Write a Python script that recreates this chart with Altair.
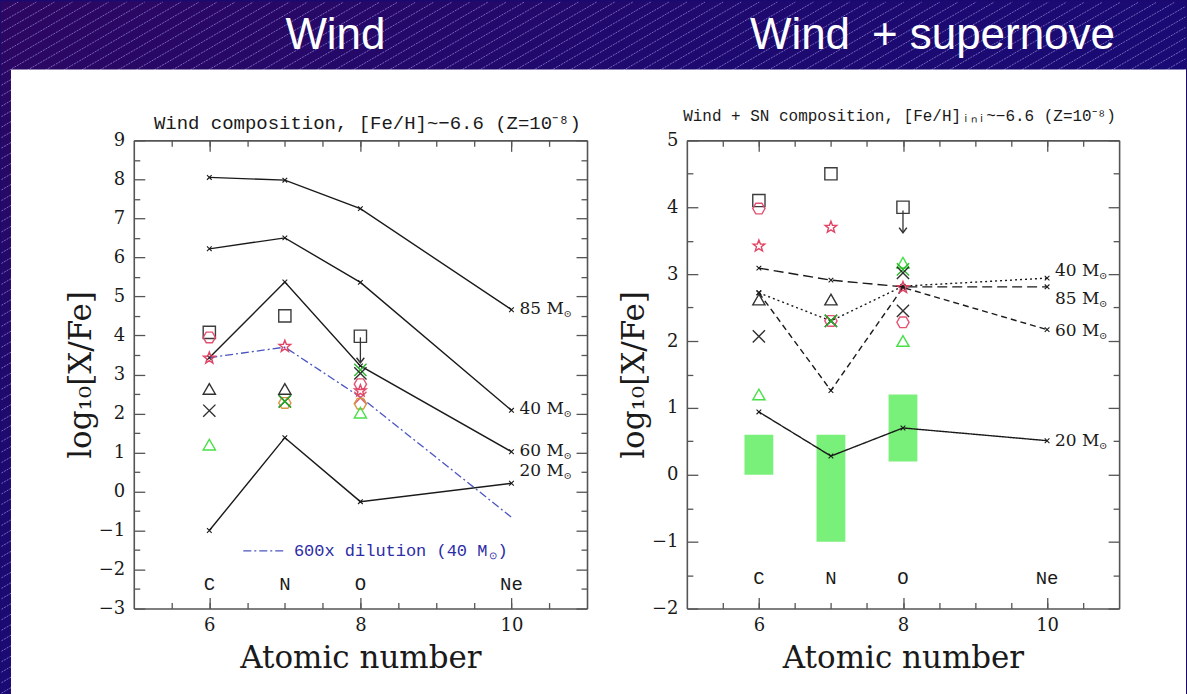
import altair as alt
import numpy as np
import pandas as pd

# ---------------------------------------------------------------- data
ELEMENTS = ["C", "N", "O", "Ne"]
ATOMIC = [6, 7, 8, 10]
MASSES = ["85", "40", "60", "20"]

# wind-only yields, log10[X/Fe]
WIND_85 = [8.05, 7.98, 7.25, 4.66]
WIND_40 = [6.22, 6.50, 5.36, 2.08]
WIND_60 = [3.43, 5.37, 3.22, 1.02]
WIND_20 = [-1.00, 1.38, -0.26, 0.21]
WIND_DILUTED_40 = [3.43, 3.70, 2.42, -0.66]
WIND_LABEL_Y = [4.68, 2.12, 1.04, 0.53]          # 85, 40, 60, 20

# wind + supernova yields
SN_85 = [3.09, 2.91, 2.81, 2.81]
SN_40 = [2.72, 2.30, 2.82, 2.94]
SN_60 = [2.72, 1.26, 2.80, 2.17]
SN_20 = [0.94, 0.28, 0.70, 0.51]
SN_LABEL_Y = [2.63, 3.05, 2.15, 0.51]            # 85, 40, 60, 20

# observed extremely metal-poor stars
OBS_KINDS = ["square", "hex_red", "star_red", "tri_black", "x_black",
             "tri_green", "x_green", "hex_orange", "x_red"]

WIND_OBS_Z = [6, 6, 6, 6, 6, 6, 7, 7, 7, 7, 7, 7, 8, 8, 8, 8, 8, 8, 8, 8]
WIND_OBS_VAL = [4.08, 3.95, 3.42, 2.63, 2.07, 1.20,
                4.50, 3.72, 2.63, 2.27, 2.31, 2.31,
                3.98, 3.12, 3.03, 2.75, 2.58, 2.40, 2.25, 2.02]
WIND_OBS_KIND = ["square", "hex_red", "star_red", "tri_black", "x_black", "tri_green",
                 "square", "star_red", "tri_black", "hex_orange", "x_black", "x_green",
                 "square", "x_green", "x_black", "hex_red", "star_red", "x_red",
                 "hex_orange", "tri_green"]

SN_OBS_Z = [6, 6, 6, 6, 6, 6, 7, 7, 7, 7, 7, 7, 8, 8, 8, 8, 8, 8, 8, 8]
SN_OBS_VAL = [4.10, 3.98, 3.42, 2.62, 2.07, 1.20,
              4.50, 3.70, 2.62, 2.30, 2.30, 2.30,
              4.00, 3.17, 3.07, 3.02, 2.80, 2.45, 2.28, 2.00]
SN_OBS_KIND = ["square", "hex_red", "star_red", "tri_black", "x_black", "tri_green",
               "square", "star_red", "tri_black", "hex_red", "x_black", "x_green",
               "square", "tri_green", "x_green", "x_black", "star_red", "x_black",
               "hex_red", "tri_green"]

# oxygen upper limit (from, to)
WIND_LIMIT = [3.95, 3.30]
SN_LIMIT = [3.95, 3.62]

# observed abundance ranges (green boxes)
RANGE_Z_LO = [5.8, 6.8, 7.8]
RANGE_Z_HI = [6.2, 7.2, 8.2]
RANGE_LO = [0.0, -1.0, 0.2]
RANGE_HI = [0.6, 0.6, 1.2]

# dilution legend sample
LEGEND_Z = [6.45, 7.0]
LEGEND_Y = [-1.52, -1.52]

X_MAJOR = [6, 8, 10]
X_MINOR = [5.5, 6, 6.5, 7, 7.5, 8, 8.5, 9, 9.5, 10, 10.5]
WIND_Y_MAJOR = [-3, -2, -1, 0, 1, 2, 3, 4, 5, 6, 7, 8, 9]
WIND_Y_MINOR = [-2.5, -1.5, -0.5, 0.5, 1.5, 2.5, 3.5, 4.5, 5.5, 6.5, 7.5, 8.5]
SN_Y_MAJOR = [-2, -1, 0, 1, 2, 3, 4, 5]
SN_Y_MINOR = [-1.5, -0.5, 0.5, 1.5, 2.5, 3.5, 4.5]

WIND_TITLE = "Wind composition, [Fe/H]~−6.6 (Z=10⁻⁸)"
SN_TITLE = "Wind + SN composition, [Fe/H]ᵢₙᵢ~−6.6 (Z=10⁻⁸)"
HEADERS = ["Wind", "Wind\u2002+ supernove"]

# ---------------------------------------------------------------- styles
SERIF = "DejaVu Serif"
MONO = "Liberation Mono"
SANS = "Liberation Sans"
INK = "#1a1a1a"
FRAME = "#555555"

STAR = ("M0,-1L0.247,-0.34L0.951,-0.309L0.399,0.13L0.588,0.809L0,0.42"
        "L-0.588,0.809L-0.399,0.13L-0.951,-0.309L-0.247,-0.34Z")
HEX = "M-1,0L-0.5,-0.866L0.5,-0.866L1,0L0.5,0.866L-0.5,0.866Z"
XMARK = "M-1,-1L1,1M-1,1L1,-1"
VHEAD = "M-1,-1.3L0,0L1,-1.3"

KIND_SHAPES = ["square", HEX, STAR, "triangle-up", XMARK,
               "triangle-up", XMARK, HEX, XMARK]
KIND_COLORS = ["#333333", "#e4486a", "#e23a5c", "#262626", "#262626",
               "#3fdf3f", "#22b522", "#d8923c", "#e0506a"]

PLOT_LEFT, PLOT_TOP = 133, 139
CANVAS_W, CANVAS_H = 1187, 694


def make_axes(major, minor, lo, hi, title, label_pad, title_pad, fmt):
    common = dict(grid=False, zindex=1, tickColor=FRAME, domainColor=FRAME,
                  domainWidth=1.6, tickWidth=1.3)
    return [
        alt.Axis(orient=lo, values=major, ticks=False, domain=True, labels=True,
                 title=title, labelPadding=label_pad, titlePadding=title_pad,
                 labelFont=SERIF, labelFontSize=18, labelColor=INK,
                 labelFlush=False, labelOverlap=False, format=fmt,
                 titleFont=SERIF, titleFontSize=31, titleFontWeight="normal",
                 titleColor=INK, **common),
        alt.Axis(orient=hi, ticks=False, domain=True, labels=False, title=None, **common),
        alt.Axis(orient=lo, values=major, tickSize=11, offset=-11, domain=False,
                 labels=False, title=None, **common),
        alt.Axis(orient=hi, values=major, tickSize=11, offset=-11, domain=False,
                 labels=False, title=None, **common),
        alt.Axis(orient=lo, values=minor, tickSize=6, offset=-6, domain=False,
                 labels=False, title=None, **common),
        alt.Axis(orient=hi, values=minor, tickSize=6, offset=-6, domain=False,
                 labels=False, title=None, **common),
    ]


class Positions:
    """Hands out x/y encodings; the first layers carry the frame axes."""

    def __init__(self, xs, ys, xaxes, yaxes):
        self.xs, self.ys, self.xaxes, self.yaxes = xs, ys, xaxes, yaxes
        self.k = 0

    def __call__(self, xf, yf, **extra):
        k = self.k
        self.k += 1
        ax = self.xaxes[k] if k < len(self.xaxes) else None
        ay = self.yaxes[k] if k < len(self.yaxes) else None
        enc = dict(x=alt.X(xf, type="quantitative", scale=self.xs, axis=ax),
                   y=alt.Y(yf, type="quantitative", scale=self.ys, axis=ay))
        enc.update(extra)
        return enc


def line_df(vals):
    return pd.DataFrame({"z": ATOMIC, "v": vals})


def obs_layers(pos, z, val, kind, limit):
    obs = pd.DataFrame({"z": z, "v": val, "kind": kind})
    pts = alt.Chart(obs).mark_point(filled=False, size=150, strokeWidth=1.4, opacity=0.95).encode(
        **pos("z", "v",
              shape=alt.Shape("kind:N", scale=alt.Scale(domain=OBS_KINDS, range=KIND_SHAPES), legend=None),
              color=alt.Color("kind:N", scale=alt.Scale(domain=OBS_KINDS, range=KIND_COLORS), legend=None)))
    lim = pd.DataFrame({"z": [8], "top": [limit[0]], "bottom": [limit[1]]})
    rule = alt.Chart(lim).mark_rule(color="#333333", strokeWidth=1.3).encode(
        **pos("z", "top", y2="bottom"))
    head = alt.Chart(lim).mark_point(shape=VHEAD, filled=False, size=60, color="#333333",
                                     strokeWidth=1.5, opacity=1).encode(**pos("z", "bottom"))
    return [pts, rule, head]


def mass_labels(pos, ys):
    lab = pd.DataFrame({"z": [10] * 4, "v": ys, "t": [m + " M" for m in MASSES], "sun": ["⊙"] * 4})
    main = alt.Chart(lab).mark_text(align="left", baseline="middle", dx=8, font=SERIF,
                                    fontSize=17, color=INK).encode(**pos("z", "v", text="t:N"))
    sub = alt.Chart(lab).mark_text(align="left", baseline="middle", dx=52, dy=5, font=SERIF,
                                   fontSize=10, color=INK).encode(**pos("z", "v", text="sun:N"))
    return [main, sub]


def element_labels(pos, y):
    el = pd.DataFrame({"z": ATOMIC, "v": [y] * 4, "t": ELEMENTS})
    return alt.Chart(el).mark_text(baseline="middle", font=MONO, fontSize=19,
                                   color=INK).encode(**pos("z", "v", text="t:N"))


def vertex_marks(pos, series):
    df = pd.concat([line_df(s) for s in series])
    return alt.Chart(df).mark_point(shape=XMARK, size=22, filled=False, color=INK,
                                    strokeWidth=1.1, opacity=1).encode(**pos("z", "v"))


def panel_title(text, cx, cy, size):
    # caption above the frame, positioned in the panel's pixel space
    return alt.Chart(pd.DataFrame({"t": [text]})).mark_text(
        font=MONO, fontSize=size, color=INK, baseline="middle").encode(
        x=alt.value(cx), y=alt.value(cy), text="t:N")


# ---------------------------------------------------------------- backdrop
def backdrop_layers():
    def px(v, o):
        return alt.value(v - o)

    one = pd.DataFrame({"a": [0]})
    grad = alt.LinearGradient(
        gradient="linear", x1=0, y1=0, x2=0.7, y2=0.7,
        stops=[alt.GradientStop(color="#2d0761", offset=0),
               alt.GradientStop(color="#1d0a70", offset=0.5),
               alt.GradientStop(color="#150b78", offset=1)])
    bg = alt.Chart(one).mark_rect(color=grad).encode(
        x=px(0, PLOT_LEFT), x2=px(CANVAS_W, PLOT_LEFT),
        y=px(0, PLOT_TOP), y2=px(CANVAS_H, PLOT_TOP))

    slope, gap = 0.58, 10.5
    rows = []
    for c in np.arange(0, CANVAS_H + slope * CANVAS_W + gap, gap):
        xa = max(0.5, (c - (CANVAS_H - 0.5)) / slope)
        xb = min(CANVAS_W - 0.5, (c - 0.5) / slope)
        if xb <= xa:
            continue
        rows.append({"x": xa - PLOT_LEFT, "y": c - slope * xa - PLOT_TOP,
                     "x2": xb - PLOT_LEFT, "y2": c - slope * xb - PLOT_TOP})
    hatch = alt.Chart(pd.DataFrame(rows)).mark_rule(
        color="#9585d8", strokeWidth=1, opacity=0.75, strokeDash=[2, 1]).encode(
        x=alt.X("x:Q", scale=None), y=alt.Y("y:Q", scale=None),
        x2="x2:Q", y2="y2:Q")

    sheet = alt.Chart(one).mark_rect(color="white").encode(
        x=px(10, PLOT_LEFT), x2=px(CANVAS_W, PLOT_LEFT),
        y=px(68, PLOT_TOP), y2=px(CANVAS_H, PLOT_TOP))

    head = pd.DataFrame({"t": HEADERS,
                         "x": [335 - PLOT_LEFT, 933 - PLOT_LEFT],
                         "y": [34 - PLOT_TOP, 34 - PLOT_TOP]})
    heads = alt.Chart(head).mark_text(font=SANS, fontSize=44, color="white",
                                      baseline="middle").encode(
        x=alt.X("x:Q", scale=None), y=alt.Y("y:Q", scale=None), text="t:N")
    return [bg, hatch, sheet, heads]


# ---------------------------------------------------------------- wind panel
xs = alt.Scale(domain=[5, 11], nice=False, zero=False)
ys_w = alt.Scale(domain=[-3, 9], nice=False, zero=False)
pw = Positions(xs, ys_w,
               make_axes(X_MAJOR, X_MINOR, "bottom", "top", "Atomic number", 8, 9, "d"),
               make_axes(WIND_Y_MAJOR, WIND_Y_MINOR, "left", "right", "log₁₀[X/Fe]", 9, 1, "d"))

wind_layers = backdrop_layers()
for vals in [WIND_85, WIND_40, WIND_60, WIND_20]:
    wind_layers.append(alt.Chart(line_df(vals)).mark_line(color=INK, strokeWidth=1.4).encode(
        **pw("z", "v")))
wind_layers.append(alt.Chart(line_df(WIND_DILUTED_40)).mark_line(
    color="#4a55c0", strokeWidth=1.3, strokeDash=[8, 3, 2, 3]).encode(**pw("z", "v")))
wind_layers.append(vertex_marks(pw, [WIND_85, WIND_40, WIND_60, WIND_20]))
wind_layers += obs_layers(pw, WIND_OBS_Z, WIND_OBS_VAL, WIND_OBS_KIND, WIND_LIMIT)
wind_layers += mass_labels(pw, WIND_LABEL_Y)
wind_layers.append(element_labels(pw, -2.36))
wind_layers.append(alt.Chart(pd.DataFrame({"z": LEGEND_Z, "v": LEGEND_Y})).mark_line(
    color="#4a55c0", strokeWidth=1.3, strokeDash=[8, 3, 2, 3]).encode(**pw("z", "v")))
legend_txt = pd.DataFrame({"z": [7.12] * 3, "v": [LEGEND_Y[0]] * 3,
                           "t": ["600x dilution (40 M", "⊙", ")"],
                           "size": [17, 10, 17], "shift": [0, 195, 204], "drop": [0, 5, 0]})
for i in range(3):
    row = legend_txt.iloc[[i]]
    wind_layers.append(alt.Chart(row).mark_text(
        align="left", baseline="middle", font=MONO, fontSize=int(row["size"].iloc[0]),
        dx=int(row["shift"].iloc[0]), dy=int(row["drop"].iloc[0]), color="#2c2ca6").encode(
        **pw("z", "v", text="t:N")))
wind_layers.append(panel_title(WIND_TITLE, 234, -17, 19))

wind = alt.layer(*wind_layers).properties(width=454, height=469)

# ---------------------------------------------------------------- wind + SN panel
ys_s = alt.Scale(domain=[-2, 5], nice=False, zero=False)
ps = Positions(xs, ys_s,
               make_axes(X_MAJOR, X_MINOR, "bottom", "top", "Atomic number", 8, 9, "d"),
               make_axes(SN_Y_MAJOR, SN_Y_MINOR, "left", "right", "log₁₀[X/Fe]", 9, 1, "d"))

ranges = pd.DataFrame({"z0": RANGE_Z_LO, "z1": RANGE_Z_HI, "lo": RANGE_LO, "hi": RANGE_HI})
sn_layers = [alt.Chart(ranges).mark_rect(color="#6aee6a", opacity=0.9).encode(
    **ps("z0", "lo", x2="z1", y2="hi"))]
for vals, dash in [(SN_85, [10, 5]), (SN_40, [2, 3]), (SN_60, [6, 4]), (SN_20, [1, 0])]:
    sn_layers.append(alt.Chart(line_df(vals)).mark_line(
        color=INK, strokeWidth=1.4, strokeDash=dash).encode(**ps("z", "v")))
sn_layers.append(vertex_marks(ps, [SN_85, SN_40, SN_60, SN_20]))
sn_layers += obs_layers(ps, SN_OBS_Z, SN_OBS_VAL, SN_OBS_KIND, SN_LIMIT)
sn_layers += mass_labels(ps, SN_LABEL_Y)
sn_layers.append(element_labels(ps, -1.54))
sn_layers.append(panel_title(SN_TITLE, 213, -24, 16))

sn = alt.layer(*sn_layers).properties(width=433, height=469)

chart = alt.hconcat(wind, sn, spacing=100, bounds="flush").properties(
    padding=0, background="#1a0a70").configure_view(stroke="transparent")

chart.save("out.html", embed_options={"renderer": "svg", "actions": False})
